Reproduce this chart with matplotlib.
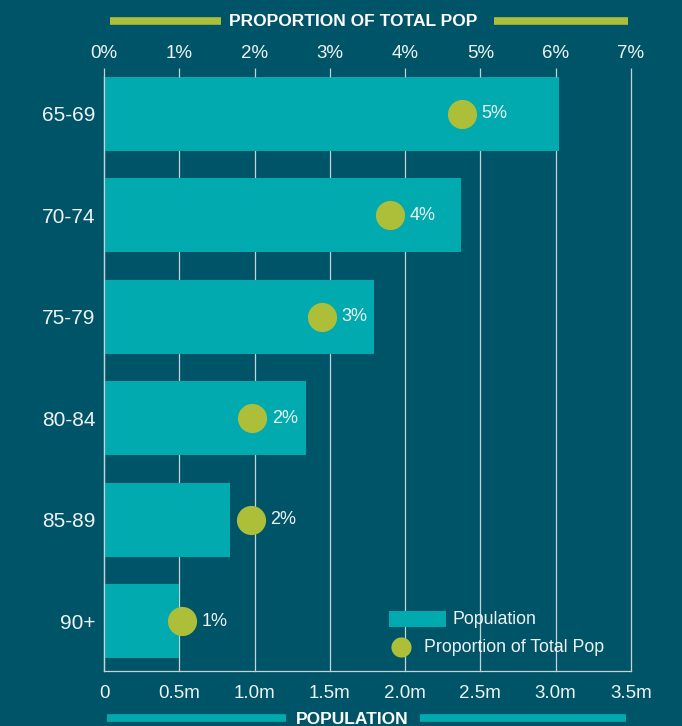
import numpy as np
import matplotlib
matplotlib.use("Agg")
import matplotlib.pyplot as plt
from matplotlib.lines import Line2D
from matplotlib.patches import Rectangle

# data
ages = ["65-69", "70-74", "75-79", "80-84", "85-89", "90+"]
population_m = [3.02, 2.37, 1.79, 1.34, 0.84, 0.50]
share_pct = [4.75, 3.80, 2.90, 1.97, 1.95, 1.04]
share_labels = ["5%", "4%", "3%", "2%", "2%", "1%"]
pop_ticks = [0, 0.5, 1.0, 1.5, 2.0, 2.5, 3.0, 3.5]
pop_ticklabels = ["0", "0.5m", "1.0m", "1.5m", "2.0m", "2.5m", "3.0m", "3.5m"]
pct_ticks = [0, 1, 2, 3, 4, 5, 6, 7]
pct_ticklabels = ["0%", "1%", "2%", "3%", "4%", "5%", "6%", "7%"]

bg = "#005468"
bar_c = "#00aaae"
dot_c = "#adbf38"
txt_c = "#eef3f4"
grid_c = "#c3d4d9"

plt.rcParams["font.family"] = ["Liberation Sans", "DejaVu Sans"]

W, H = 682, 726
fig = plt.figure(figsize=(W / 100, H / 100), dpi=100, facecolor=bg)


def px(x, y):
    # pixel position (from top-left) -> figure fraction
    return x / W, 1 - y / H


ax = fig.add_axes([104 / W, 55 / H, (631 - 104) / W, (671 - 77) / H])
ax.set_facecolor(bg)
y = np.arange(len(ages))

ax.barh(y, population_m, height=0.73, color=bar_c, zorder=2)
ax.set_xlim(0, 3.5)
ax.set_ylim(5.49, -0.36)
ax.set_xticks(pop_ticks)
ax.set_xticklabels(pop_ticklabels)
ax.set_yticks(y)
ax.set_yticklabels(ages)
ax.tick_params(axis="x", length=0, pad=10, labelsize=13.5, labelcolor=txt_c)
ax.tick_params(axis="y", length=0, pad=6, labelsize=15, labelcolor=txt_c)
ax.grid(axis="x", color=grid_c, lw=0.9, zorder=0)
ax.set_axisbelow(True)
for gl in ax.xaxis.get_gridlines():
    gl.set_clip_on(False)
for s in ["top", "right"]:
    ax.spines[s].set_visible(False)
for s in ["left", "bottom"]:
    ax.spines[s].set_color(grid_c)
    ax.spines[s].set_linewidth(0.9)

ax2 = ax.twiny()
ax2.set_xlim(0, 7)
ax2.plot(share_pct, y, "o", ms=21, color=dot_c, mec="none", zorder=3)
for xv, yv, lab in zip(share_pct, y, share_labels):
    ax2.annotate(lab, (xv, yv), xytext=(14, 0), textcoords="offset points",
                 va="center", ha="left", fontsize=13, color=txt_c)
ax2.set_xticks(pct_ticks)
ax2.set_xticklabels(pct_ticklabels)
ax2.tick_params(axis="x", direction="out", length=6.5, width=0.9, color=grid_c,
                pad=4, labelsize=13.5, labelcolor=txt_c)
for s in ax2.spines.values():
    s.set_visible(False)
ax2.set_ylim(5.49, -0.36)

# header / footer titles with bars either side
def title_bar(x0, x1, x2, x3, yy, color):
    for a, b in [(x0, x1), (x2, x3)]:
        (fa, fy), (fb, _) = px(a, yy), px(b, yy)
        fig.add_artist(Line2D([fa, fb], [fy, fy], transform=fig.transFigure,
                              color=color, lw=5.5, solid_capstyle="butt"))

title_bar(110, 221, 494, 628, 21, dot_c)
fig.text(*px(353, 22), "PROPORTION OF TOTAL POP", ha="center", va="center",
         fontsize=12.5, fontweight="bold", color="white")
title_bar(107, 286, 420, 626, 718, bar_c)
fig.text(*px(352, 720), "POPULATION", ha="center", va="center",
         fontsize=12.5, fontweight="bold", color="white")

# legend
lx, ly = px(389, 627)
fig.add_artist(Rectangle((lx, ly), 57 / W, 16 / H, transform=fig.transFigure,
                         color=bar_c, lw=0))
fig.text(*px(453, 619), "Population", ha="left", va="center",
         fontsize=12.8, color=txt_c)
dx, dy = px(401, 647)
fig.add_artist(Line2D([dx], [dy], transform=fig.transFigure, marker="o",
                      ms=14.5, color=dot_c, mec="none"))
fig.text(*px(424, 647), "Proportion of Total Pop", ha="left", va="center",
         fontsize=12.8, color=txt_c)

fig.savefig("out.png", dpi=100, facecolor=bg)
